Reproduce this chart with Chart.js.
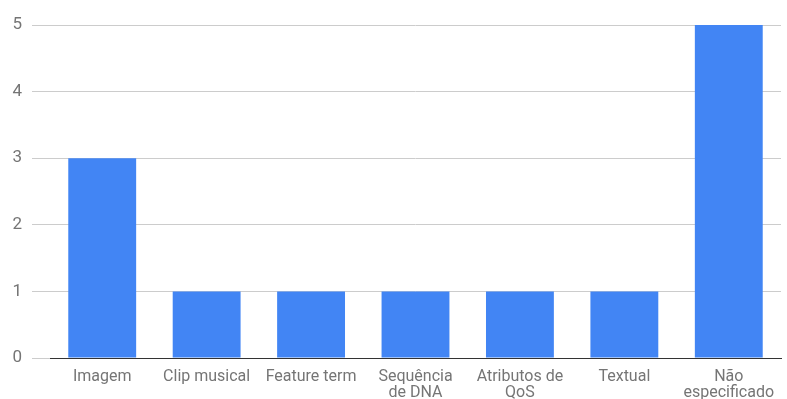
<!DOCTYPE html>
<html>
<head>
<meta charset="utf-8">
<script src="https://cdn.jsdelivr.net/npm/chart.js@4"></script>
<style>
  html, body { margin: 0; padding: 0; background: #fff; }
  #wrap { width: 787px; height: 399px; }
</style>
</head>
<body>
<div id="wrap"><canvas id="miGrafico"></canvas></div>
<script>
// categorias e valores
const categorias = [
    'Imagem', 'Clip musical', 'Feature term', ['Sequência', 'de DNA'],
    ['Atributos de', 'QoS'], 'Textual', ['Não', 'especificado']
];
const valores = [3, 1, 1, 1, 1, 1, 5];
const ticksY = [0, 1, 2, 3, 4, 5];

const corTexto = '#757575';

let grafico = new Chart(document.getElementById('miGrafico'), {
    type: 'bar',
    data: {
        labels: categorias,
        datasets: [{
            data: valores,
            backgroundColor: '#4285F4',
            borderWidth: 0,
            barPercentage: 0.65,
            categoryPercentage: 1
        }]
    },
    options: {
        responsive: true,
        maintainAspectRatio: false,
        animation: false,
        layout: { padding: { top: 25, right: 6, bottom: 0, left: 0 } },
        plugins: { legend: { display: false }, tooltip: { enabled: false } },
        scales: {
            x: {
                afterFit: s => { s.height = 41; },
                grid: { display: false },
                border: { color: '#333333', width: 1 },
                ticks: {
                    color: corTexto,
                    font: { family: 'Roboto', size: 16, lineHeight: 1.0 },
                    maxRotation: 0,
                    autoSkip: false,
                    padding: 3
                }
            },
            y: {
                min: 0,
                max: 5,
                afterFit: s => { s.width = 50; },
                afterBuildTicks: s => { s.ticks = ticksY.map(v => ({ value: v })); },
                grid: {
                    color: '#cccccc',
                    tickColor: '#cccccc',
                    tickLength: 18
                },
                border: { display: false },
                ticks: {
                    color: corTexto,
                    font: { family: 'Roboto', size: 17 },
                    padding: 10
                }
            }
        }
    }
});
</script>
</body>
</html>
